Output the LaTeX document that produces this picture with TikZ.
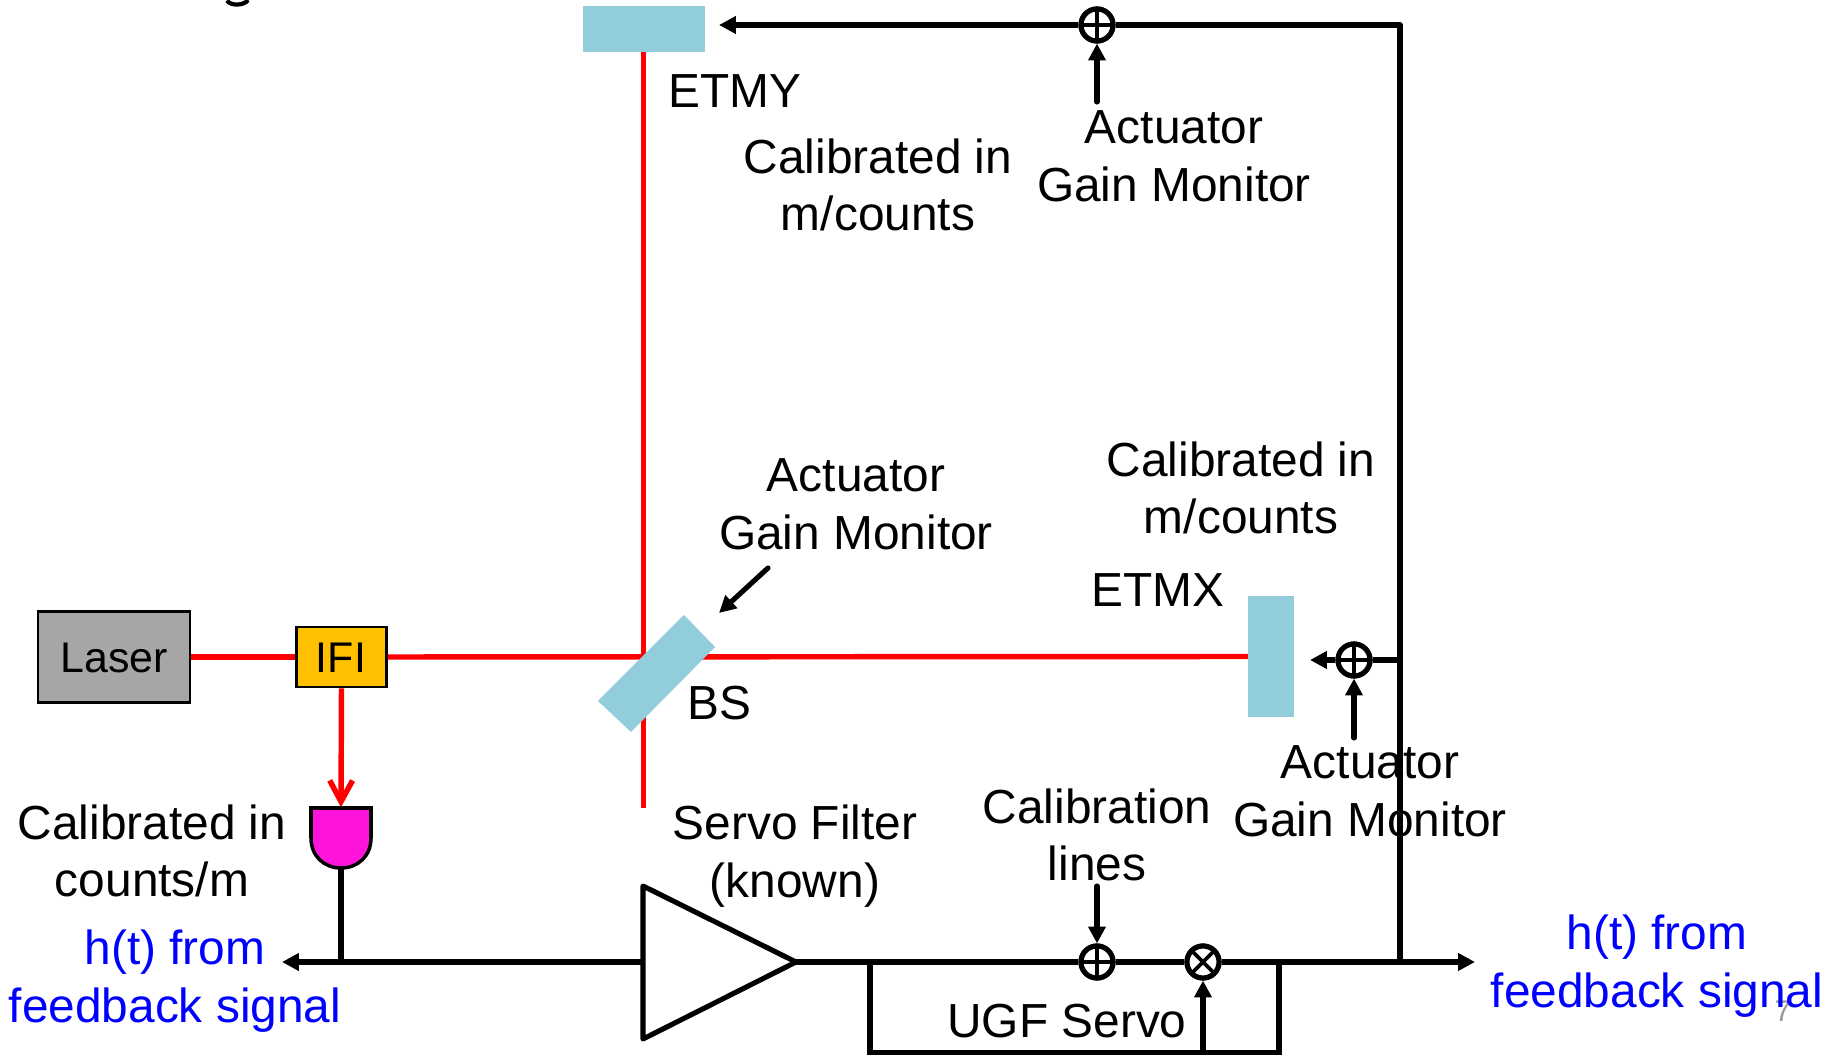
\documentclass[tikz,border=0pt]{standalone}
\usepackage{fontspec}
\setmainfont{Liberation Sans}
\usetikzlibrary{arrows.meta}
\definecolor{mirror}{HTML}{92CDDC}
\definecolor{laserg}{HTML}{A6A6A6}
\definecolor{ifiy}{HTML}{FFC000}
\definecolor{detm}{HTML}{FF14DC}
\tikzset{
  x=0.01cm,y=-0.01cm,
  lbl/.style={font=\fontsize{13.6}{16.4}\selectfont,align=center,inner sep=0pt},
  boxlbl/.style={font=\fontsize{12.2}{14}\selectfont,align=center,inner sep=0pt},
  bluelbl/.style={lbl,text=blue},
  beam/.style={draw=red,line width=1.55pt},
  sig/.style={draw=black,line width=1.45pt},
  sigarrow/.style={sig,-{Triangle[length=4.8pt,width=4.8pt]}},
  mirrorbox/.style={fill=mirror,draw=none,inner sep=0pt,outer sep=0pt},
  sumnode/.style={circle,draw=black,line width=1.45pt,fill=white,minimum size=0.32cm,inner sep=0pt,
    path picture={\draw[line width=1.1pt] (path picture bounding box.north)--(path picture bounding box.south)
      (path picture bounding box.west)--(path picture bounding box.east);}},
  mulnode/.style={circle,draw=black,line width=1.45pt,fill=white,minimum size=0.32cm,inner sep=0pt,
    path picture={\draw[line width=1.1pt] (path picture bounding box.north west)--(path picture bounding box.south east)
      (path picture bounding box.south west)--(path picture bounding box.north east);}},
}
\begin{document}
\begin{tikzpicture}
\useasboundingbox (0,0) rectangle (1841,1055);
% coordinates
\coordinate (bsc) at (657,673);
\coordinate (yend) at (643.5,808);
\coordinate (tl) at (719,25);
\coordinate (tr) at (1400,25);
\coordinate (br) at (1400,962);
\coordinate (xfb) at (1400,660);
\coordinate (xtip) at (1310,660);
\coordinate (ltip) at (282,962);
\coordinate (rtip) at (1475,962);
\coordinate (ti) at (643,962);
\coordinate (tt) at (796,962);
\coordinate (tj) at (341,962);
\coordinate (a1) at (1097,102);
\coordinate (a2) at (1354,738);
\coordinate (a3) at (1097,886);
\coordinate (a4) at (1203,1053);
\coordinate (bsa) at (768,568);
\coordinate (bsb) at (719,613);
\coordinate (ub1) at (870,962);
\coordinate (ub2) at (870,1053);
\coordinate (ub3) at (1279,1053);
\coordinate (ub4) at (1279,962);
% nodes
\node[mirrorbox,minimum width=1.22cm,minimum height=0.46cm] (etmy) at (644,29) {};
\node[mirrorbox,minimum width=0.46cm,minimum height=1.21cm] (etmx) at (1271,656.5) {};
\node[draw=black,line width=0.75pt,fill=laserg,minimum width=1.52cm,minimum height=0.91cm,inner sep=0pt] (laser) at (114,657) {};
\node[draw=black,line width=0.75pt,fill=ifiy,minimum width=0.9cm,minimum height=0.6cm,inner sep=0pt] (ifi) at (341.5,657) {};
\node[minimum width=0.6cm,minimum height=0.6cm,inner sep=0pt] (det) at (341,838) {};
% beams
\draw[beam] (laser.east)--(ifi.west);
\draw[beam] (ifi.east)--(etmx.west);
\draw[beam] (etmy.south-|yend)--(yend);
\draw[beam,-{Straight Barb[length=6pt,width=6.5pt]}] (ifi.south)--(det.north);
% beam splitter
\fill[mirror] (684,615)--(715,647)--(631,732)--(598,701)--cycle;
\node[inner sep=0pt,minimum size=0pt] (bs) at (bsc) {};
% detector
\draw[fill=detm,line width=1pt] (311,808)--(371,808)--(371,838) .. controls (371,856) and (358,868) .. (341,868) .. controls (324,868) and (311,856) .. (311,838)--cycle;
% signal lines
\node[sumnode] (s1) at (1097,25) {};
\node[sumnode] (s2) at (1354,660) {};
\node[sumnode] (s3) at (1097,962) {};
\node[mulnode] (m1) at (1203,962) {};
\draw[sig] (det.south)--(tj);
\draw[sigarrow] (ti)--(ltip);
\draw[sigarrow] (tt)--(s3)--(m1)--(rtip);
\draw[sig,line join=miter] (ub1)--(ub2)--(ub3)--(ub4);
\draw[sig,line join=round] (br)--(tr)--(s1);
\draw[sigarrow] (s1)--(tl);
\draw[sig] (xfb)--(s2);
\draw[sigarrow] (s2)--(xtip);
\draw[sigarrow,line cap=round] (a1)--(s1);
\draw[sigarrow,line cap=round] (a2)--(s2);
\draw[sigarrow,line cap=round] (a3)--(s3);
\draw[sigarrow] (a4)--(m1);
\draw[sigarrow,line cap=round] (bsa)--(bsb);
\node[sumnode] at (s1) {};
\node[sumnode] at (s2) {};
\node[sumnode] at (s3) {};
\node[mulnode] at (m1) {};
% triangle
\draw[sig,line join=round,fill=white] (643,886)--(tt)--(643,1039)--cycle;
% stub of a cut-off title letter
\draw[line width=1.2pt] (227,0.5) .. controls (230,6) and (244,6) .. (248,0);
% slide number
\node[text=gray!80,font=\fontsize{8.5}{10}\selectfont,inner sep=0pt] (num) at (1783,1011) {7};
% labels
\node[lbl,anchor=base west] (tetmy) at (668,108) {ETMY};
\node[lbl] (tc1) at (878,185) {Calibrated in\\m/counts};
\node[lbl] (ta1) at (1174,156) {Actuator\\Gain Monitor};
\node[lbl] (tc2) at (1241,488) {Calibrated in\\m/counts};
\node[lbl] (ta2) at (856,504) {Actuator\\Gain Monitor};
\node[lbl] (tetmx) at (1158,590) {ETMX};
\node[lbl] (tbs) at (719,703) {BS};
\node[lbl] (ta3) at (1370,791) {Actuator\\Gain Monitor};
\node[lbl] (tcal) at (1097,835) {Calibration\\lines};
\node[lbl] (tsf) at (795,856) {Servo Filter\\(known)};
\node[lbl] (tc3) at (152,851) {Calibrated in\\counts/m};
\node[bluelbl] (th1) at (175,981) {h(t) from\\feedback signal};
\node[bluelbl] (th2) at (1657,966) {h(t) from\\feedback signal};
\node[lbl] (tugf) at (1067,1021) {UGF Servo};
\node[boxlbl] (tlaser) at (114,658) {Laser};
\node[boxlbl] (tifi) at (341,658) {IFI};
\end{tikzpicture}
\end{document}
